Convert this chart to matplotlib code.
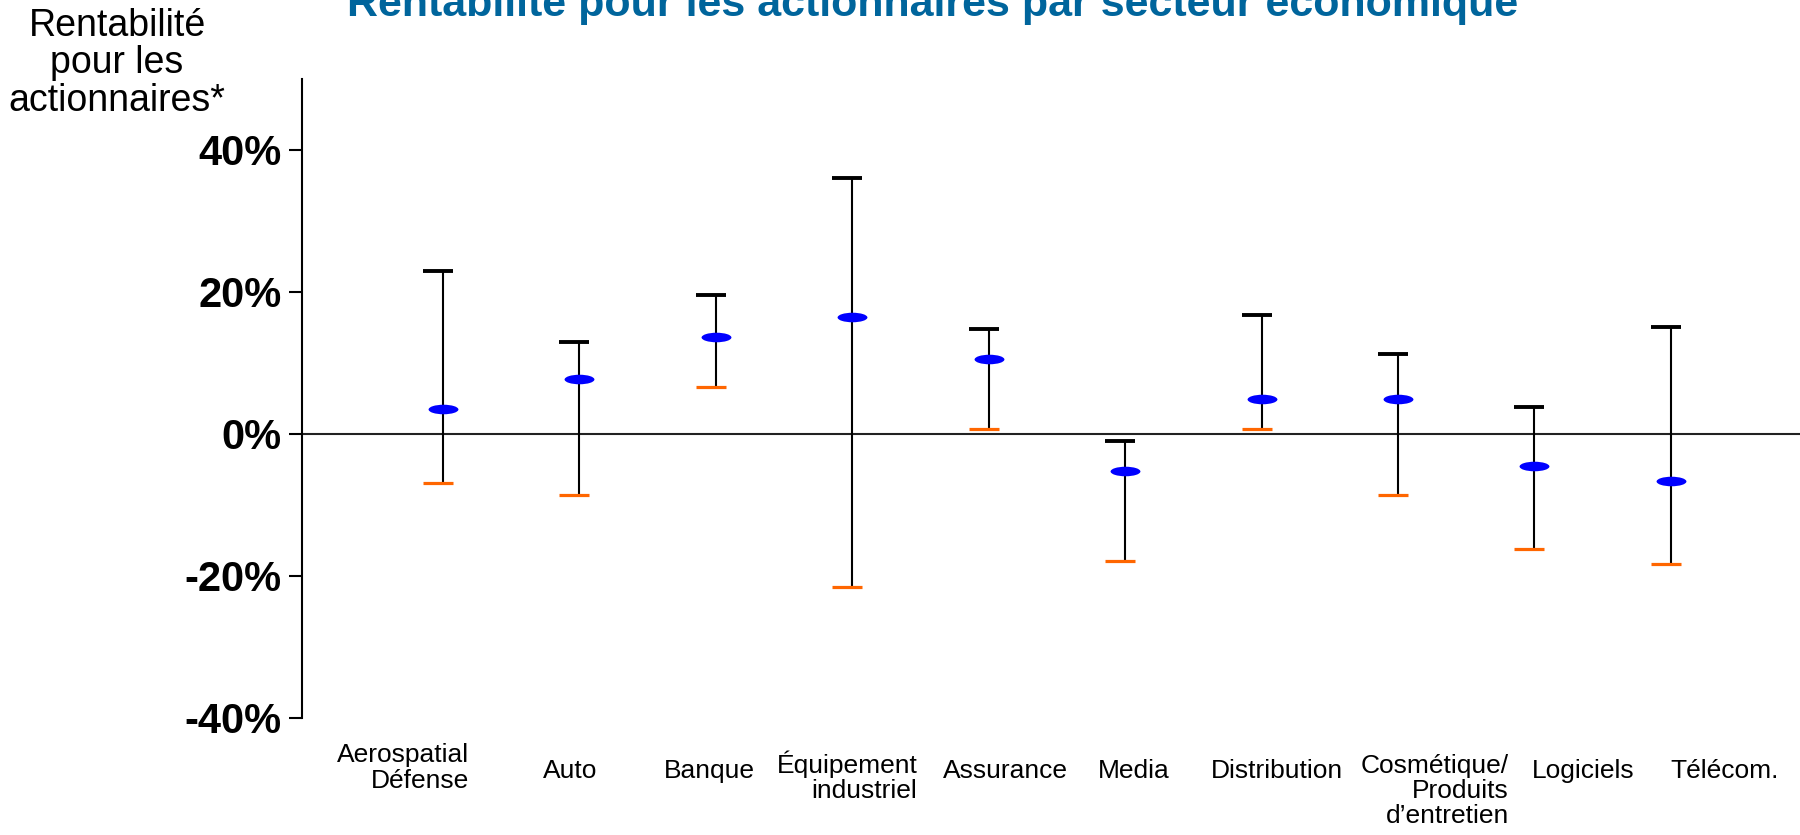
import matplotlib
matplotlib.use('Agg')
import matplotlib.pyplot as plt
from matplotlib.path import Path
from matplotlib.transforms import offset_copy, Affine2D
import numpy as np

plt.rcParams['font.family'] = ['Liberation Sans', 'DejaVu Sans']

# valeurs (en %)
secteurs = ['Aerospatial\nDéfense', 'Auto', 'Banque', 'Équipement\nindustriel', 'Assurance',
            'Media', 'Distribution', 'Cosmétique/\nProduits\nd\u2019entretien', 'Logiciels', 'Télécom.']
haut = [23.0, 12.9, 19.6, 36.0, 14.8, -1.0, 16.8, 11.2, 3.8, 15.1]
moyenne = [3.5, 7.7, 13.6, 16.5, 10.5, -5.2, 4.9, 4.9, -4.5, -6.6]
bas = [-6.9, -8.6, 6.6, -21.6, 0.7, -18.0, 0.7, -8.6, -16.3, -18.3]
yticks = [-40, -20, 0, 20, 40]

# decalage des libelles par rapport aux barres (x en unites de categorie, y en pixels)
label_dx = [-0.29, -0.07, -0.05, -0.04, 0.12, 0.06, 0.11, 0.27, 0.36, 0.39]
label_dy = [-3, 0, 0, 6, 0, 0, 0, 20, 0, 0]

x = np.arange(1, len(secteurs) + 1)

fig = plt.figure(figsize=(18, 8.35), dpi=100)
ax = fig.add_axes([0.1676, 0.1407, 1 - 0.1676, 0.9054 - 0.1407])

ax.set_xlim(-0.036, 10.946)
ax.set_ylim(-40, 50)

ax.axhline(0, color='#222222', lw=1.5, zorder=1)
ax.vlines(x, bas, haut, color='black', lw=1.5, zorder=2)

cap_tr = offset_copy(ax.transData, fig=fig, x=-5, y=0, units='dots')
ax.plot(x, haut, ls='none', marker='_', ms=22, mew=2.8, color='black', transform=cap_tr, zorder=3)
ax.plot(x, bas, ls='none', marker='_', ms=22, mew=2.3, color='#ff6600', transform=cap_tr, zorder=3)

circ = Path.unit_circle()
ellipse = Path(Affine2D().scale(1, 0.32).transform(circ.vertices), circ.codes)
ax.plot(x, moyenne, ls='none', marker=ellipse, ms=21.5, color='#0000ff', mec='none', zorder=4)

for s in ['top', 'right', 'bottom']:
    ax.spines[s].set_visible(False)
ax.spines['left'].set_linewidth(1.5)

ax.set_yticks(yticks)
ax.set_yticklabels([f'{v}%' for v in yticks], fontsize=30, fontweight='bold')
ax.tick_params(axis='y', length=9.5, width=1.5, pad=5)
ax.set_xticks([])

for xi, lab, dx, dy in zip(x, secteurs, label_dx, label_dy):
    tr = offset_copy(ax.transData, fig=fig, x=0, y=-dy, units='dots')
    ax.text(xi + dx, -40 - (771 - 717.5) / 7.1, lab, ha='center', va='center',
            multialignment='right', fontsize=19, linespacing=1.06, transform=tr)

fig.text(117 / 1800, 1 - 8 / 835, 'Rentabilité\npour les\nactionnaires*', ha='center', va='top',
         fontsize=27, linespacing=1.05)
fig.text(933 / 1800, 1 - 16 / 835, 'Rentabilité pour les actionnaires par secteur économique',
         ha='center', va='baseline', fontsize=31, fontweight='bold', color='#00659c')

fig.savefig('out.png', dpi=100)
